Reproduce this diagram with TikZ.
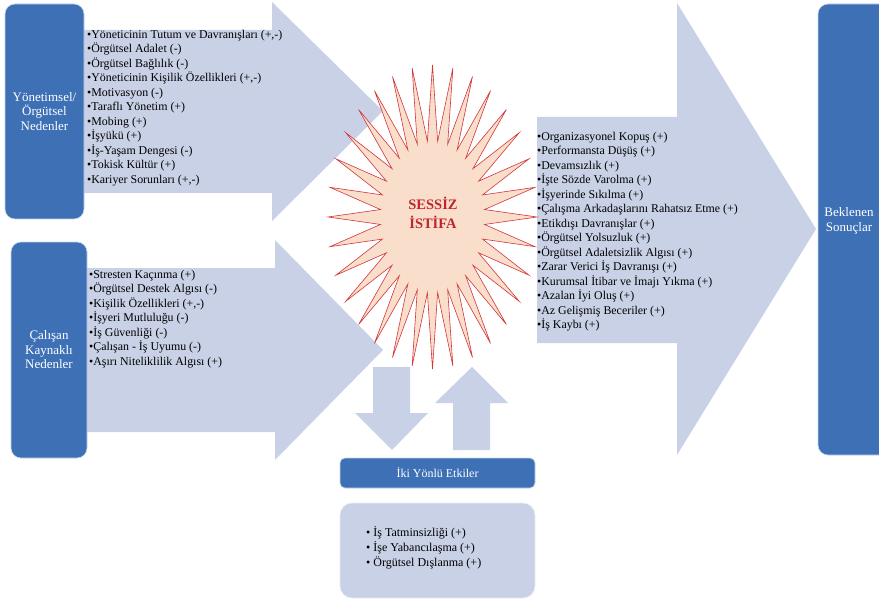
\documentclass[tikz,border=0pt]{standalone}
\usepackage{fontspec}
\setmainfont{Liberation Serif}

\definecolor{koyumavi}{RGB}{62,112,182}
\definecolor{acikmavi}{RGB}{201,209,230}
\definecolor{yildizic}{RGB}{250,222,204}
\definecolor{yildizkenar}{RGB}{212,52,58}
\definecolor{koyukirmizi}{RGB}{190,38,44}

\begin{document}
\begin{tikzpicture}[x=1pt, y=-1pt,
    blok/.style={fill=acikmavi, draw=none},
    kutu/.style={fill=koyumavi, draw=white!70!koyumavi, line width=0.6pt, rounded corners=10pt},
    kutuyazi/.style={text=white, align=center, font=\fontsize{13}{14.5}\selectfont},
    liste/.style={anchor=north west, inner sep=0pt, align=left, font=\fontsize{11.9}{14.5}\selectfont}]
    \useasboundingbox (0,0) rectangle (879,599);

    % Block arrows
    \fill[blok] (80,30) -- (272,30) -- (272,2) -- (383,111) -- (272,221) -- (272,193) -- (80,193) -- cycle;
    \fill[blok] (84,268) -- (275,268) -- (275,240) -- (383,350) -- (275,460) -- (275,432) -- (84,432) -- cycle;
    \fill[blok] (537,117) -- (677,117) -- (677,3) -- (816,229) -- (677,455) -- (677,343) -- (537,343) -- cycle;

    % Up / down arrows
    \fill[blok] (373,367) -- (410,367) -- (410,413) -- (428,413) -- (392,450) -- (355,413) -- (373,413) -- cycle;
    \fill[blok] (453,450) -- (490,450) -- (490,403) -- (508,403) -- (472,367) -- (435,403) -- (453,403) -- cycle;

    % Star
    \draw[fill=yildizic, draw=yildizkenar, line width=0.6pt, line join=miter]
        (537,217) \foreach \k in {1,...,63} {
            -- ({432.5+104.5*(1-0.5*mod(\k,2))*cos(\k*5.625)}, {217+152*(1-0.5*mod(\k,2))*sin(\k*5.625)})
        } -- cycle;
    \node[text=koyukirmizi, align=center, font=\bfseries\fontsize{14.5}{19}\selectfont] (SI) at (433,213) {SESSİZ\\İSTİFA};

    % Boxes
    \node[kutu, kutuyazi, minimum width=79, minimum height=215] (YO) at (44.5,111.5) {Yönetimsel/\\Örgütsel\\Nedenler};
    \node[kutu, kutuyazi, minimum width=76, minimum height=216] (CK) at (49,350) {Çalışan\\Kaynaklı\\Nedenler};
    \node[kutu, minimum width=72, minimum height=451] (BS) at (854,229.5) {};
    \node[kutuyazi] (BSt) at (849,221) {Beklenen\\Sonuçlar};
    \node[kutu, kutuyazi, rounded corners=5pt, minimum width=195, minimum height=30, font=\fontsize{12}{14}\selectfont] (IY) at (437.5,473) {İki Yönlü Etkiler};
    \node[blok, draw=white!60!acikmavi, line width=0.6pt, rounded corners=12pt, minimum width=195, minimum height=95] (IE) at (437.5,550.5) {};

    % Lists
    \node[liste] (L1) at (87,30) {•Yöneticinin Tutum ve Davranışları (+,-)\\•Örgütsel Adalet (-)\\•Örgütsel Bağlılık (-)\\•Yöneticinin Kişilik Özellikleri (+,-)\\•Motivasyon (-)\\•Taraflı Yönetim (+)\\•Mobing (+)\\•İşyükü (+)\\•İş-Yaşam Dengesi (-)\\•Tokisk Kültür (+)\\•Kariyer Sorunları (+,-)};
    \node[liste] (L2) at (89,270) {•Stresten Kaçınma (+)\\•Örgütsel Destek Algısı (-)\\•Kişilik Özellikleri (+,-)\\•İşyeri Mutluluğu (-)\\•İş Güvenliği (-)\\•Çalışan - İş Uyumu (-)\\•Aşırı Niteliklilik Algısı (+)};
    \node[liste] (L3) at (537,132) {•Organizasyonel Kopuş (+)\\•Performansta Düşüş (+)\\•Devamsızlık (+)\\•İşte Sözde Varolma (+)\\•İşyerinde Sıkılma (+)\\•Çalışma Arkadaşlarını Rahatsız Etme (+)\\•Etikdışı Davranışlar (+)\\•Örgütsel Yolsuzluk (+)\\•Örgütsel Adaletsizlik Algısı (+)\\•Zarar Verici İş Davranışı (+)\\•Kurumsal İtibar ve İmajı Yıkma (+)\\•Azalan İyi Oluş (+)\\•Az Gelişmiş Beceriler (+)\\•İş Kaybı (+)};
    \node[liste, font=\fontsize{12}{15}\selectfont] (L4) at (366,526) {• İş Tatminsizliği (+)\\• İşe Yabancılaşma (+)\\• Örgütsel Dışlanma (+)};

\end{tikzpicture}
\end{document}
